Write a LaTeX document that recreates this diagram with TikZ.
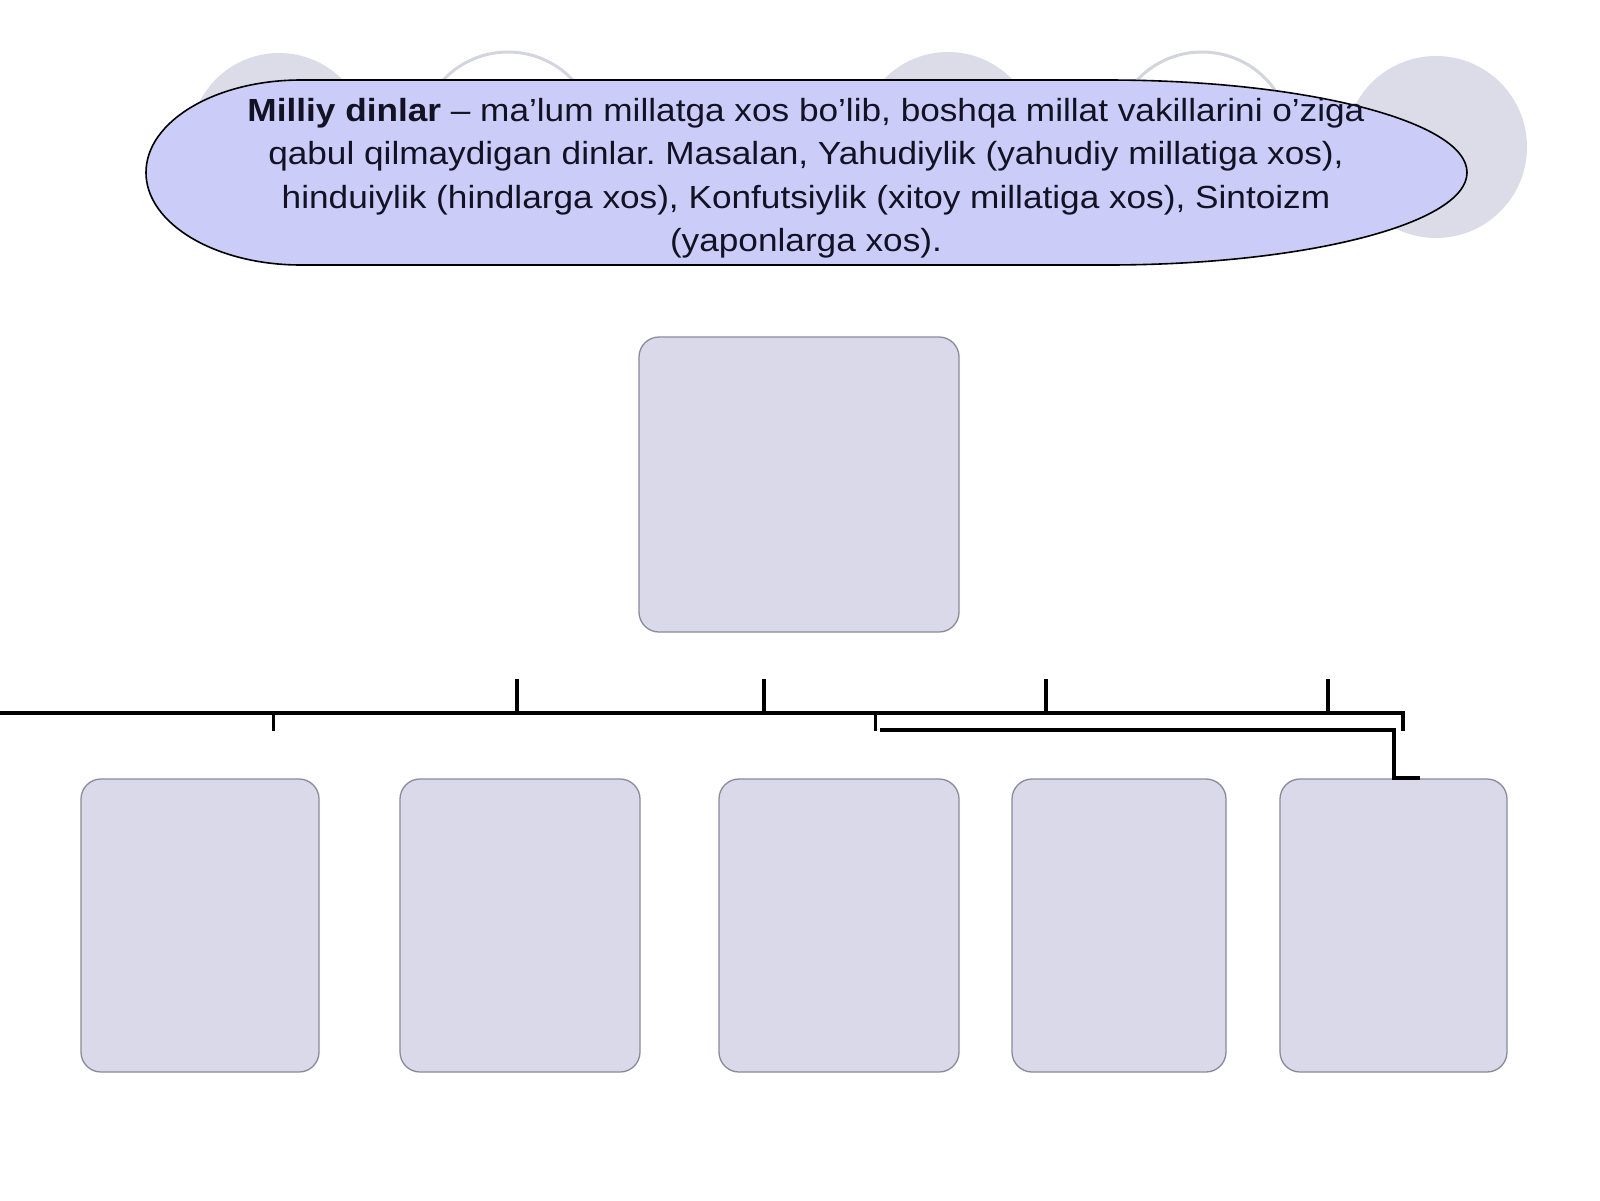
\documentclass[tikz,border=0pt]{standalone}
\usepackage{fontspec}
\setmainfont{Liberation Sans}
\newfontfamily\descfont[FakeStretch=1.1]{Liberation Sans}
\frenchspacing
\definecolor{ellfill}{RGB}{204,204,248}
\definecolor{boxfill}{RGB}{217,217,234}
\definecolor{boxline}{RGB}{138,138,154}
\definecolor{circfill}{RGB}{220,220,232}
\definecolor{circline}{RGB}{212,212,222}
\definecolor{txt}{RGB}{18,18,36}
\tikzset{
  bgdisc/.style={circle, fill=circfill, draw=none, inner sep=0pt, minimum size=178pt},
  bgring/.style={circle, draw=circline, line width=3pt, inner sep=0pt, minimum size=178pt},
  oval/.style={draw=black, fill=ellfill, line width=1.6pt},
  desc/.style={align=center, inner sep=0pt, text=txt, font=\descfont\fontsize{32}{43.5}\selectfont},
  panel/.style={rectangle, rounded corners=20pt, draw=boxline, fill=boxfill, line width=1.3pt, inner sep=0pt},
  conn/.style={draw=black, line width=4.3pt, line join=miter},
  conntwo/.style={draw=black, line width=4.6pt, line join=miter}
}
\begin{document}
\begin{tikzpicture}[x=1pt,y=-1pt]
\useasboundingbox (0,0) rectangle (1600,1200);
\fill[white] (0,0) rectangle (1600,1200);

% background circles
\node[bgdisc] (c1) at (279,142) {};
\node[bgring] (c2) at (508,141) {};
\node[bgdisc] (c3) at (948,141) {};
\node[bgring] (c4) at (1202,141) {};
\node[bgdisc, minimum size=182pt] (c5) at (1436,147) {};

% oval (asymmetric, fuller on the left)
\path[oval] (301,80) .. controls (215.4,80) and (146,121.4) .. (146,172.5)
  .. controls (146,223.6) and (215.4,265) .. (301,265)
  -- (1107,265)
  .. controls (1305.8,265) and (1467,223.6) .. (1467,172.5)
  .. controls (1467,121.4) and (1305.8,80) .. (1107,80)
  -- cycle;
\node[desc] (txt) at (806,178) {\textbf{Milliy dinlar} – ma’lum millatga xos bo’lib, boshqa millat vakillarini o’ziga\\
qabul qilmaydigan dinlar. Masalan, Yahudiylik (yahudiy millatiga xos),\\
hinduiylik (hindlarga xos), Konfutsiylik (xitoy millatiga xos), Sintoizm\\
(yaponlarga xos).};

% boxes
\node[panel, minimum width=320pt, minimum height=295pt] (top) at (799,484.5) {};
\node[panel, minimum width=238pt, minimum height=293pt] (b1) at (200,925.5) {};
\node[panel, minimum width=240pt, minimum height=293pt] (b2) at (520,925.5) {};
\node[panel, minimum width=240pt, minimum height=293pt] (b3) at (839,925.5) {};
\node[panel, minimum width=214pt, minimum height=293pt] (b4) at (1119,925.5) {};
\node[panel, minimum width=227pt, minimum height=293pt] (b5) at (1393.5,925.5) {};

% connector coordinates
\coordinate (L0) at (0,713);
\coordinate (R0) at (1403,713);
\coordinate (R1) at (1403,731);
\coordinate (u1a) at (517,679); \coordinate (u1b) at (517,713);
\coordinate (u2a) at (764,679); \coordinate (u2b) at (764,713);
\coordinate (u3a) at (1046,679); \coordinate (u3b) at (1046,713);
\coordinate (u4a) at (1328,679); \coordinate (u4b) at (1328,713);
\coordinate (d1a) at (273,713); \coordinate (d1b) at (273,731);
\coordinate (d2a) at (875,713); \coordinate (d2b) at (875,731);
\coordinate (s0) at (880,730);
\coordinate (s1) at (1394,730);
\coordinate (s2) at (1394,778);
\coordinate (s3) at (1420,778);

\draw[conn] (L0) -- (R0) -- (R1);
\draw[conn] (u1a) -- (u1b);
\draw[conn] (u2a) -- (u2b);
\draw[conn] (u3a) -- (u3b);
\draw[conn] (u4a) -- (u4b);
\draw[conn, line width=3pt] (d1a) -- (d1b);
\draw[conn, line width=3pt] (d2a) -- (d2b);
\draw[conntwo] (s0) -- (s1) -- (s2) -- (s3);
\end{tikzpicture}
\end{document}
